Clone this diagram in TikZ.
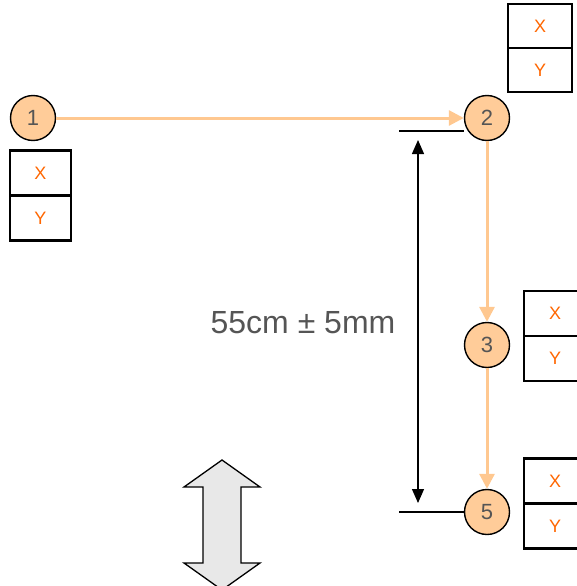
\documentclass[tikz,border=0pt]{standalone}
\usepackage{fontspec}
\setmainfont{Liberation Sans}
\usetikzlibrary{positioning, arrows.meta}

\definecolor{peach}{HTML}{FFCC99}
\definecolor{peachline}{HTML}{FFC890}
\definecolor{labelgray}{HTML}{555555}
\definecolor{xyorange}{HTML}{FF6600}
\definecolor{blockgray}{HTML}{E8E8E8}

\begin{document}
\begin{tikzpicture}[
    x=1pt, y=-1pt,
    station/.style={circle, draw, line width=1.4pt, fill=peach, minimum size=45pt, inner sep=0pt,
        text=labelgray, font=\fontsize{22}{22}\selectfont},
    cell/.style={rectangle, draw, line width=2.2pt, minimum width=62pt, minimum height=45pt, inner sep=0pt,
        outer sep=0pt, text=xyorange, font=\fontsize{18}{18}\selectfont},
    flow/.style={-{Triangle[length=15pt, width=15pt]}, line width=3pt, peachline},
    dimline/.style={line width=1.3pt},
    dimarrow/.style={{Triangle[length=14pt, width=12pt]}-{Triangle[length=14pt, width=12pt]}, line width=1.3pt}
]
    \useasboundingbox (0,0) rectangle (576,586);

    % --- STATIONS ---
    \node (c1) [station] at (33,118) {1};
    \node (c2) [station] at (487,118) {2};
    \node (c3) [station] at (487,345) {3};
    \node (c5) [station] at (487,512) {5};

    % --- X/Y BOXES ---
    \node (x1) [cell, minimum width=61pt] at (40.5,173) {X};
    \node (y1) [cell, minimum width=61pt, below=0pt of x1] {Y};
    \node (x2) [cell, minimum width=64pt, minimum height=44pt] at (540,26) {X};
    \node (y2) [cell, minimum width=64pt, minimum height=44pt, below=0pt of x2] {Y};
    \node (x3) [cell] at (555,313.5) {X};
    \node (y3) [cell, below=0pt of x3] {Y};
    \node (x5) [cell] at (555,481) {X};
    \node (y5) [cell, below=0pt of x5] {Y};

    % --- FLOW ---
    \draw [flow] (c1) -- (c2);
    \draw [flow] (c2) -- (c3);
    \draw [flow] (c3) -- (c5);

    % --- DIMENSION ---
    \coordinate (d1) at (399,131);
    \coordinate (d2) at (399,512);
    \coordinate (dt) at (418,140);
    \coordinate (db) at (418,503);
    \draw [dimline] (d1) -- (c2.west |- d1);
    \draw [dimline] (d2) -- (c5.west);
    \draw [dimarrow] (dt) -- (db);
    \node (dim) [text=labelgray, font=\fontsize{32}{32}\selectfont] at (303,323) {55cm ± 5mm};

    % block arrow
    \draw [line width=1.3pt, fill=blockgray, line join=miter]
        (222,460) -- (184,487) -- (203,487) -- (203,563) -- (184,563) -- (222,590)
        -- (260,563) -- (241,563) -- (241,487) -- (260,487) -- cycle;

\end{tikzpicture}
\end{document}
